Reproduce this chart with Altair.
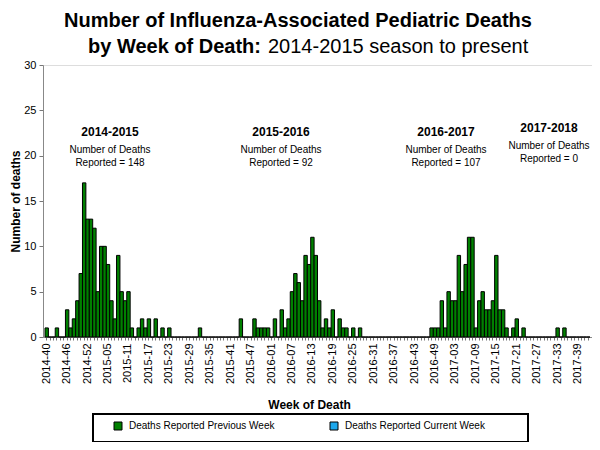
import altair as alt
import pandas as pd

# ---- data -------------------------------------------------------------
week_ranges = [(2014, 40, 53), (2015, 1, 52), (2016, 1, 52), (2017, 1, 42)]
weeks = [f"{y}-{w:02d}" for y, a, b in week_ranges for w in range(a, b + 1)]

deaths_2014_15 = [1, 0, 0, 1, 0, 0, 3, 1, 2, 4,
                  7, 17, 13, 13, 12, 5, 10, 10, 8, 4,
                  2, 9, 5, 4, 5, 1, 0, 1, 2, 1,
                  2, 0, 2, 0, 1, 0, 1, 0, 0, 0,
                  0, 0, 0, 0, 0, 1, 0, 0, 0, 0,
                  0, 0, 0]
deaths_2015_16 = [0, 0, 0, 0, 2, 0, 0, 0, 2, 1,
                  1, 1, 1, 0, 2, 0, 3, 1, 2, 5,
                  7, 6, 4, 9, 8, 11, 9, 4, 1, 2,
                  1, 3, 0, 2, 1, 1, 0, 1, 0, 1,
                  0, 0, 0, 0, 0, 0, 0, 0, 0, 0,
                  0, 0]
deaths_2016_17 = [0, 0, 0, 0, 0, 0, 0, 0, 1, 1,
                  1, 4, 1, 5, 4, 4, 9, 5, 8, 11,
                  11, 1, 4, 5, 3, 3, 4, 9, 3, 3,
                  1, 0, 1, 2, 0, 1, 0, 0, 0, 0,
                  0, 0, 0, 0, 0, 1, 0, 1, 0, 0,
                  0, 0]
deaths_2017_18 = [0, 0, 0]
deaths = deaths_2014_15 + deaths_2015_16 + deaths_2016_17 + deaths_2017_18

tick_labels = ["2014-40", "2014-46", "2014-52", "2015-05", "2015-11", "2015-17",
               "2015-23", "2015-29", "2015-35", "2015-41", "2015-47", "2016-01",
               "2016-07", "2016-13", "2016-19", "2016-25", "2016-31", "2016-37",
               "2016-43", "2016-49", "2017-03", "2017-09", "2017-15", "2017-21",
               "2017-27", "2017-33", "2017-39"]

series = ["Deaths Reported Previous Week", "Deaths Reported Current Week"]
colors = ["#008000", "#1CA7EC"]

seasons = ["2014-2015", "2015-2016", "2016-2017", "2017-2018"]
season_totals = [148, 92, 107, 0]

df = pd.DataFrame({"week": weeks, "deaths": deaths, "series": series[0]})

FONT = "Liberation Sans, Arial, sans-serif"

W, H = 549, 272
label_expr = "indexof([" + ",".join(f"'{t}'" for t in tick_labels) + "], datum.value) >= 0 ? datum.value : ''"

bars = alt.Chart(df).mark_bar(stroke="black", strokeWidth=1).encode(
    x=alt.X("week:N", sort=weeks,
            scale=alt.Scale(domain=weeks, paddingInner=0, paddingOuter=0.59),
            axis=alt.Axis(title="Week of Death", labelExpr=label_expr, labelAngle=270,
                          labelOverlap=False, labelFontSize=11, labelFont=FONT,
                          labelColor="black", tickSize=3, tickColor="#777",
                          domainColor="#888", labelPadding=3,
                          titleFont=FONT, titleFontSize=12, titleFontWeight="bold",
                          titleX=266, titleY=67, titleAlign="center",
                          titleBaseline="middle", titleColor="black")),
    y=alt.Y("deaths:Q", scale=alt.Scale(domain=[0, 30], nice=False),
            axis=alt.Axis(title="Number of deaths", values=[0, 5, 10, 15, 20, 25, 30],
                          grid=False, labelFontSize=11, labelFont=FONT,
                          labelColor="black", tickSize=4, tickColor="#777",
                          domainColor="#888", labelPadding=3,
                          titleFont=FONT, titleFontSize=12, titleFontWeight="bold",
                          titleX=-28, titleY=136, titleAlign="center",
                          titleBaseline="middle", titleColor="black")),
    color=alt.Color("series:N", scale=alt.Scale(domain=series, range=colors),
                    legend=alt.Legend(title=None, orient="none", legendX=70, legendY=356,
                                      direction="horizontal", symbolType="square",
                                      symbolSize=64, symbolStrokeColor="black",
                                      symbolStrokeWidth=1, symbolOpacity=1,
                                      labelFont=FONT, labelFontSize=10,
                                      labelColor="black", labelOffset=6,
                                      columnPadding=53, padding=0)),
)

box = alt.Chart(pd.DataFrame({"k": [0]})).mark_rect(
    fill="white", stroke="black", strokeWidth=2
).encode(x=alt.value(50), x2=alt.value(485), y=alt.value(349), y2=alt.value(377))

def txt(s, x, y, size, weight="normal", align="center"):
    return alt.Chart(pd.DataFrame({"t": [s]})).mark_text(
        fontSize=size, fontWeight=weight, font=FONT, align=align,
        baseline="middle", color="black"
    ).encode(text="t:N", x=alt.value(x), y=alt.value(y))

title1 = txt("Number of Influenza-Associated Pediatric Deaths", 255, -44, 20, "bold")
title2a = txt("by Week of Death:", 218, -18, 20, "bold", "right")
title2b = txt("2014-2015 season to present", 225, -18, 20, "normal", "left")

season_x = [67, 238, 403, 506]
season_y = [67, 67, 67, 63]
ann = []
for s, tot, sx, sy in zip(seasons, season_totals, season_x, season_y):
    ann.append(txt(s, sx, sy, 12, "bold"))
    ann.append(txt("Number of Deaths", sx, sy + 18, 10))
    ann.append(txt(f"Reported = {tot}", sx, sy + 31, 10))

chart = alt.layer(box, bars, title1, title2a, title2b, *ann).properties(
    width=W, height=H,
    autosize=alt.AutoSizeParams(type="none"),
    padding={"left": 35, "top": 57, "right": 0, "bottom": 105},
).configure_view(stroke=None).configure(background="white")

chart.save("out.html", embed_options={"renderer": "svg", "actions": False})
